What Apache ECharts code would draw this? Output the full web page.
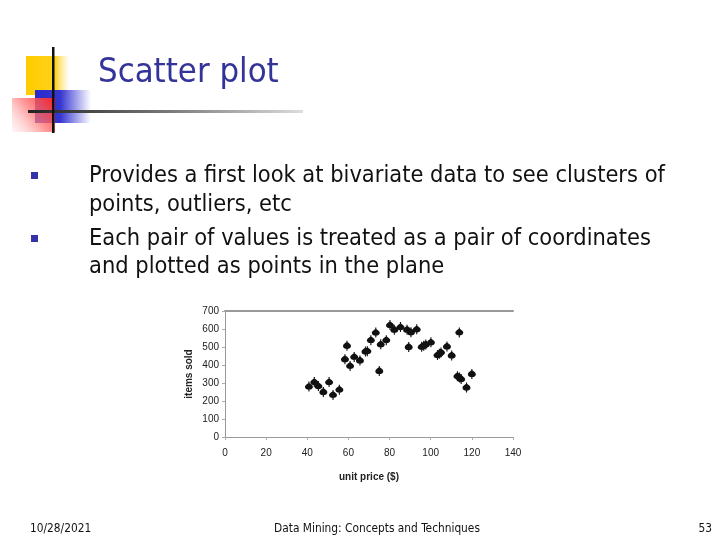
<!DOCTYPE html>
<html><head><meta charset="utf-8">
<script src="https://cdn.jsdelivr.net/npm/echarts@6/dist/echarts.min.js"></script>
<style>html,body{margin:0;padding:0;background:#fff}#c{width:720px;height:540px}</style>
</head><body><div id="c"></div>
<script>
// ---- data ----
const unitPrice = [40.8, 43.4, 45.4, 47.8, 50.6, 52.5, 55.6,
  58.3, 59.3, 60.8, 62.8, 65.6, 68.3, 69.2, 70.9, 73.3, 75.0, 75.7, 78.4,
  80.2, 82.3, 85.3, 88.5, 89.3, 90.4, 93.2, 95.6, 96.6, 97.6, 100.1,
  103.3, 104.2, 105.0, 107.9, 110.2, 113.9, 113.0, 114.0, 114.8, 117.4, 120.0];
const itemsSold = [280, 305, 283, 250, 305, 234, 263,
  432, 507, 395, 445, 425, 475, 477, 538, 580, 367, 515, 538,
  622, 596, 611, 596, 500, 582, 598, 501, 507, 514, 526,
  455, 462, 470, 503, 453, 581, 338, 330, 322, 275, 350];
const xTickLabels = ['0', '20', '40', '60', '80', '100', '120', '140'];
const yTickLabels = ['0', '100', '200', '300', '400', '500', '600', '700'];
const xAxisName = 'unit price ($)';
const yAxisName = 'items sold';
const titleText = 'Scatter plot';
const bulletLines = [
  ['Provides a first look at bivariate data to see clusters of', 'points, outliers, etc'],
  ['Each pair of values is treated as a pair of coordinates', 'and plotted as points in the plane']
];
const footerLeft = '10/28/2021';
const footerCenter = 'Data Mining: Concepts and Techniques';
const footerRight = '53';

// ---- helpers ----
const ctx = document.createElement('canvas').getContext('2d');
function fitSize(text, family, weight, width) {
  ctx.font = weight + ' 100px ' + family;
  return 100 * width / ctx.measureText(text).width;
}
const FONT = "'DejaVu Sans Condensed', 'DejaVu Sans'";
const titleSize = fitSize(titleText, FONT, 'normal', 181);
const bulletSize = fitSize(bulletLines[0][0], FONT, 'normal', 576);
const footSize = fitSize(footerCenter, FONT, 'normal', 206);

const points = unitPrice.map((x, i) => [x, itemsSold[i]]);

const graphics = [];
// decorative squares
graphics.push({type: 'rect', shape: {x: 26, y: 56, width: 42, height: 39}, style: {fill: new echarts.graphic.LinearGradient(0, 0, 1, 0, [
  {offset: 0, color: '#FFCC00'}, {offset: 0.7, color: '#FFD21A'}, {offset: 1, color: 'rgba(255,230,150,0.2)'}])}, z: 1});
graphics.push({type: 'rect', shape: {x: 35, y: 90, width: 56, height: 33}, style: {fill: new echarts.graphic.LinearGradient(0, 0, 1, 0, [
  {offset: 0, color: '#2A2ACC'}, {offset: 0.45, color: '#3535D0'}, {offset: 1, color: 'rgba(60,60,220,0)'}])}, z: 2});
graphics.push({type: 'rect', shape: {x: 12, y: 98, width: 43, height: 34}, style: {fill: new echarts.graphic.LinearGradient(1, 0, 0, 1, [
  {offset: 0, color: '#FF2020'}, {offset: 0.5, color: 'rgba(255,120,120,0.75)'}, {offset: 1, color: 'rgba(255,210,210,0.2)'}])}, z: 3});
graphics.push({type: 'rect', shape: {x: 28, y: 110, width: 275, height: 3}, style: {fill: new echarts.graphic.LinearGradient(0, 0, 1, 0, [
  {offset: 0, color: '#222'}, {offset: 0.5, color: '#777'}, {offset: 1, color: '#ddd'}])}, z: 4});
graphics.push({type: 'rect', shape: {x: 52, y: 47, width: 2.5, height: 86}, style: {fill: '#111'}, z: 5});
// title
graphics.push({type: 'text', x: 98, y: 90, style: {text: titleText, font: 'normal ' + titleSize.toFixed(1) + 'px ' + FONT, fill: '#333399', textVerticalAlign: 'bottom'}, z: 6});
// bullets
const bulletBaselines = [[183, 212], [246, 274]];
bulletLines.forEach((lines, b) => {
  graphics.push({type: 'rect', shape: {x: 31, y: bulletBaselines[b][0] - 11, width: 7, height: 7}, style: {fill: '#3333AA'}});
  lines.forEach((t, k) => {
    graphics.push({type: 'text', x: 89, y: bulletBaselines[b][k] - bulletSize * 0.32, style: {text: t, font: 'normal ' + bulletSize.toFixed(1) + 'px ' + FONT, fill: '#111', textVerticalAlign: 'middle'}});
  });
});
// footer
const footY = 529;
graphics.push({type: 'text', x: 30, y: footY, style: {text: footerLeft, font: footSize.toFixed(1) + 'px ' + FONT, fill: '#111', textVerticalAlign: 'middle'}});
graphics.push({type: 'text', x: 377, y: footY, style: {text: footerCenter, font: footSize.toFixed(1) + 'px ' + FONT, fill: '#111', textAlign: 'center', textVerticalAlign: 'middle'}});
graphics.push({type: 'text', x: 712, y: footY, style: {text: footerRight, font: footSize.toFixed(1) + 'px ' + FONT, fill: '#111', textAlign: 'right', textVerticalAlign: 'middle'}});

const chart = echarts.init(document.getElementById('c'), null, {renderer: 'canvas'});
chart.setOption({
  backgroundColor: '#fff',
  animation: false,
  graphic: graphics,
  grid: {left: 225, top: 311, width: 288, height: 126, containLabel: false},
  xAxis: [{
    type: 'value', min: 0, max: 140, interval: 20, position: 'bottom',
    name: xAxisName, nameLocation: 'middle', nameGap: 35,
    nameTextStyle: {fontFamily: 'Liberation Sans', fontSize: 10, fontWeight: 'bold', color: '#222'},
    axisLine: {show: true, lineStyle: {color: '#999', width: 1}},
    axisTick: {show: true, length: 3, lineStyle: {color: '#aaa'}},
    axisLabel: {margin: 11, fontFamily: 'Liberation Sans', fontSize: 10, color: '#222',
      formatter: v => xTickLabels[Math.round(v / 20)]},
    splitLine: {show: false}
  }, {
    type: 'value', min: 0, max: 140, position: 'top',
    axisLine: {show: true, lineStyle: {color: '#999', width: 2}},
    axisTick: {show: false}, axisLabel: {show: false}, splitLine: {show: false}
  }],
  yAxis: {
    type: 'value', min: 0, max: 700, interval: 100,
    name: yAxisName, nameLocation: 'middle', nameGap: 31,
    nameTextStyle: {fontFamily: 'Liberation Sans', fontSize: 10, fontWeight: 'bold', color: '#222'},
    axisLine: {show: true, lineStyle: {color: '#999', width: 1}},
    axisTick: {show: true, length: 3, lineStyle: {color: '#aaa'}},
    axisLabel: {margin: 6, fontFamily: 'Liberation Sans', fontSize: 10, color: '#222',
      formatter: v => yTickLabels[Math.round(v / 100)]},
    splitLine: {show: false}
  },
  series: [{
    type: 'scatter', xAxisIndex: 0, data: points,
    symbol: 'path://M5 1.5 C7.5 3.5 10 5 10 7 C10 9.5 7.8 11 5 11 C2.2 11 0 9.5 0 7 C0 5 2.5 3.5 5 1.5 Z M4.3 0 L5.7 0 L5.7 13.5 L4.3 13.5 Z',
    symbolSize: [8, 10],
    itemStyle: {color: '#111', opacity: 1}
  }]
});
</script>
</body></html>
